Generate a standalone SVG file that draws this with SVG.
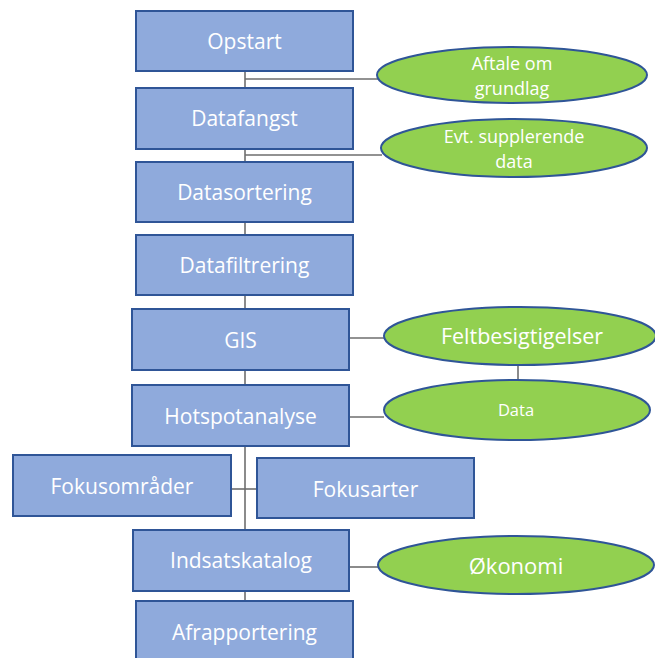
<svg xmlns="http://www.w3.org/2000/svg" width="655" height="658" viewBox="0 0 655 658">
<style>
.box{fill:#8FAADC;stroke:#2F5597;stroke-width:2}
.ell{fill:#92D050;stroke:#2F5597;stroke-width:2}
.ln{stroke:#6E6E6E;stroke-width:1.6;fill:none}
text{font-family:"Open Sans","Liberation Sans",Arial,sans-serif;fill:#FFFFFF;text-anchor:middle}
.t{font-size:21px}
.s{font-size:18px}
</style>
<rect width="655" height="658" fill="#FFFFFF"/>
<g id="connectors">
<path class="ln" d="M245 71 V658"/>
<path class="ln" d="M245 79 H378"/>
<path class="ln" d="M245 155 H382"/>
<path class="ln" d="M349 338 H384"/>
<path class="ln" d="M518 365 V380"/>
<path class="ln" d="M349 417 H384"/>
<path class="ln" d="M231 489 H257"/>
<path class="ln" d="M349 567 H378"/>
</g>
<g id="opstart"><rect class="box" x="136" y="11" width="217" height="60"/><text class="t" x="244.5" y="49">Opstart</text></g>
<g id="datafangst"><rect class="box" x="136" y="88" width="217" height="61"/><text class="t" x="244.5" y="126">Datafangst</text></g>
<g id="datasortering"><rect class="box" x="136" y="162" width="217" height="60"/><text class="t" x="244.5" y="200">Datasortering</text></g>
<g id="datafiltrering"><rect class="box" x="136" y="235" width="217" height="60"/><text class="t" x="244.5" y="273">Datafiltrering</text></g>
<g id="gis"><rect class="box" x="132" y="309" width="217" height="61"/><text class="t" x="240.5" y="348">GIS</text></g>
<g id="hotspotanalyse"><rect class="box" x="132" y="385" width="217" height="61"/><text class="t" x="240.5" y="424">Hotspotanalyse</text></g>
<g id="fokusomraader"><rect class="box" x="13" y="455" width="218" height="61"/><text class="t" x="122" y="494">Fokusområder</text></g>
<g id="fokusarter"><rect class="box" x="257" y="458" width="217" height="60"/><text class="t" x="365.5" y="497">Fokusarter</text></g>
<g id="indsatskatalog"><rect class="box" x="133" y="530" width="216" height="61"/><text class="t" x="241" y="568">Indsatskatalog</text></g>
<g id="afrapportering"><rect class="box" x="136" y="601" width="217" height="62"/><text class="t" x="244.5" y="640">Afrapportering</text></g>
<g id="aftale"><ellipse class="ell" cx="512" cy="75" rx="135" ry="28"/><text class="s" x="512" y="70">Aftale om</text><text class="s" x="512" y="95">grundlag</text></g>
<g id="supplerende"><ellipse class="ell" cx="514" cy="148" rx="133" ry="29"/><text class="s" x="514" y="143">Evt. supplerende</text><text class="s" x="514" y="168">data</text></g>
<g id="feltbesigtigelser"><ellipse class="ell" cx="520" cy="336" rx="136" ry="29"/><text x="522" y="344" style="font-size:21.5px">Feltbesigtigelser</text></g>
<g id="data"><ellipse class="ell" cx="517" cy="410" rx="133" ry="30"/><text x="516" y="416" style="font-size:16.5px">Data</text></g>
<g id="okonomi"><ellipse class="ell" cx="516" cy="565" rx="138" ry="29"/><text x="516" y="574" style="font-size:22px">Økonomi</text></g>
</svg>
